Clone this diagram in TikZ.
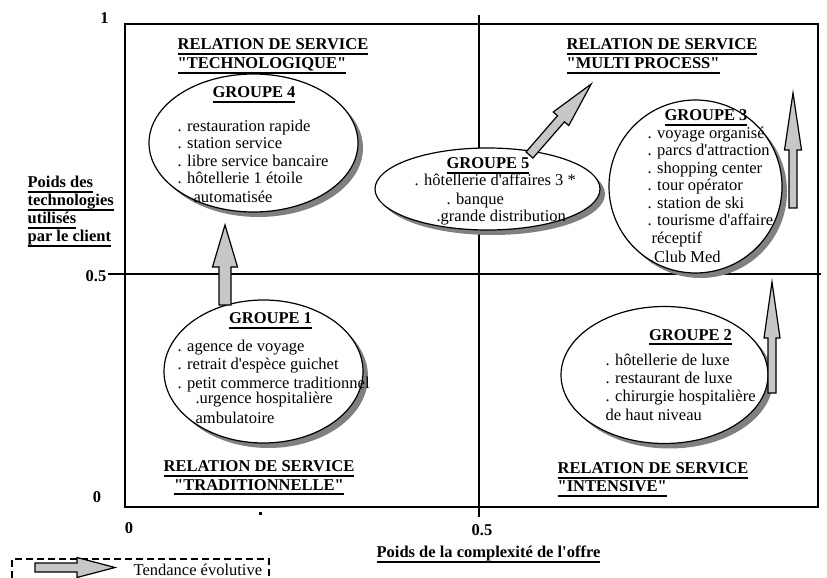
\documentclass[tikz,border=0pt]{standalone}
\usepackage{fontspec}
\setmainfont{Liberation Serif}[Ligatures=TeXOff]
\usetikzlibrary{shapes.geometric,shadows}

\newcommand{\taille}{\fontsize{16.5bp}{17bp}\selectfont}
\newsavebox{\soulbox}
\newcommand{\souligne}[1]{\sbox{\soulbox}{#1}\usebox{\soulbox}\hspace{-\wd\soulbox}\rule[-5.2bp]{\wd\soulbox}{2bp}}

\tikzset{
  groupe/.style={ellipse, draw, line width=1.2bp, fill=white, inner sep=0pt,
    drop shadow={shadow xshift=5bp, shadow yshift=-5bp, fill=black!50, opacity=1}},
  item/.style={anchor=base west, inner sep=0pt},
  titre/.style={anchor=base west, inner sep=0pt, font=\taille\bfseries},
  chiffre/.style={anchor=base, inner sep=0pt, font=\taille\bfseries},
  fleche/.style={draw, line width=1.2bp, fill=black!22, line join=miter},
  cadrelegende/.style={dash pattern=on 7bp off 4bp, line width=2bp},
}

% fleche large : point de depart, angle, longueur, demi-largeur du corps,
% demi-largeur de la pointe, longueur de la pointe
\newcommand{\tendance}[6]{%
  \begin{scope}[shift={(#1)}, rotate=#2]
    \draw[fleche] (0,-#4) -- ({#3-#6},-#4) -- ({#3-#6},-#5) -- (#3,0)
      -- ({#3-#6},#5) -- ({#3-#6},#4) -- (0,#4) -- cycle;
  \end{scope}}

\begin{document}
\begin{tikzpicture}[x=1bp, y=-1bp, line width=1.2bp, font=\taille]
\useasboundingbox (0,0) rectangle (827,578);

% cadre et axes
\draw (125,24) rectangle (818,507);
\draw (108,274) -- (821,274);
\draw (479,15) -- (479,517);
\fill (258.5,512) rectangle (261.5,514.5);

\node[chiffre] (y1) at (104.5,23.5) {1};
\node[chiffre] (y05) at (96,281) {0.5};
\node[chiffre] (y0) at (97,502) {0};
\node[chiffre] (x0) at (129,533.5) {0};
\node[chiffre] (x05) at (482,535) {0.5};

\node[titre] (axey1) at (27,187.5) {\souligne{Poids des}};
\node[titre] (axey2) at (27,205.5) {\souligne{technologies}};
\node[titre] (axey3) at (27,223.5) {\souligne{utilisés}};
\node[titre] (axey4) at (27,241.5) {\souligne{par le client}};
\node[titre] (axex) at (376,557.5) {\souligne{Poids de la complexité de l'offre}};

% les quatre relations de service
\node[titre] (techno1) at (177,49.5) {\souligne{RELATION DE SERVICE}};
\node[titre] (techno2) at (177,68.5) {\souligne{"TECHNOLOGIQUE"}};
\node[titre] (multi1) at (566,49.5) {\souligne{RELATION DE SERVICE}};
\node[titre] (multi2) at (566,68.5) {\souligne{"MULTI PROCESS"}};
\node[titre, anchor=base] (trad1) at (259,471.5) {\souligne{RELATION DE SERVICE}};
\node[titre, anchor=base] (trad2) at (259,490) {\souligne{"TRADITIONNELLE"}};
\node[titre] (intens1) at (557,473.5) {\souligne{RELATION DE SERVICE}};
\node[titre] (intens2) at (557,491.5) {\souligne{"INTENSIVE"}};

% groupes
\node[groupe, minimum width=209bp, minimum height=138bp] (g4) at (253.5,143) {};
\node[groupe, minimum width=225bp, minimum height=82bp] (g5) at (487.5,189) {};
\node[groupe, minimum width=173bp, minimum height=173bp] (g3) at (695.5,186.5) {};
\node[groupe, minimum width=199bp, minimum height=143bp] (g1) at (263.5,371.5) {};
\node[groupe, minimum width=207bp, minimum height=137bp] (g2) at (664.5,375) {};

\node[titre, anchor=base] (t4) at (254,97.5) {\souligne{GROUPE 4}};
\node[item] (g4a) at (177,131.5) {. restauration rapide};
\node[item] (g4b) at (177,149) {. station service};
\node[item] (g4c) at (177,166.5) {. libre service bancaire};
\node[item] (g4d) at (177,183.5) {. hôtellerie 1 étoile};
\node[item] (g4e) at (193,203) {automatisée};

\node[titre, anchor=base] (t5) at (488,168.5) {\souligne{GROUPE 5}};
\node[item] (g5a) at (414,185.5) {. hôtellerie d'affaires 3 *};
\node[item] (g5b) at (446,205) {. banque};
\node[item] (g5c) at (436,221.5) {.grande distribution};

\node[titre, anchor=base] (t3) at (706,121) {\souligne{GROUPE 3}};
\node[item] (g3a) at (647,138.5) {. voyage organisé};
\node[item] (g3b) at (647,156) {. parcs d'attraction};
\node[item] (g3c) at (647,173.5) {. shopping center};
\node[item] (g3d) at (647,191) {. tour opérator};
\node[item] (g3e) at (647,208.5) {. station de ski};
\node[item] (g3f) at (647,226) {. tourisme d'affaire};
\node[item] (g3g) at (651,244) {réceptif};
\node[item] (g3h) at (649.5,262) {.Club Med};

\node[titre, anchor=base] (t1) at (270.5,323.5) {\souligne{GROUPE 1}};
\node[item] (g1a) at (177,351) {. agence de voyage};
\node[item] (g1b) at (177,369) {. retrait d'espèce guichet};
\node[item] (g1c) at (177,388) {. petit commerce traditionnel};
\node[item] (g1d) at (195,403.5) {.urgence hospitalière};
\node[item] (g1e) at (195,423) {ambulatoire};

\node[titre, anchor=base] (t2) at (690.5,340) {\souligne{GROUPE 2}};
\node[item] (g2a) at (605,365.5) {. hôtellerie de luxe};
\node[item] (g2b) at (605,383.5) {. restaurant de luxe};
\node[item] (g2c) at (605,401) {. chirurgie hospitalière};
\node[item] (g2d) at (605,420.5) {de haut niveau};

% tendances
\tendance{225,305}{90}{80}{6}{12.5}{42}
\tendance{529.5,155}{49}{94}{4.6}{10.3}{46}
\tendance{793,208}{90}{115}{4}{8.5}{57}
\tendance{772,393}{90}{111}{4}{8}{56}

% legende
\draw[cadrelegende] (12,578) -- (12,559) -- (269,559) -- (269,578);
\tendance{35,567.5}{0}{80}{4.5}{10}{38}
\node[item] (legende) at (133,575.5) {Tendance évolutive};
\end{tikzpicture}
\end{document}
